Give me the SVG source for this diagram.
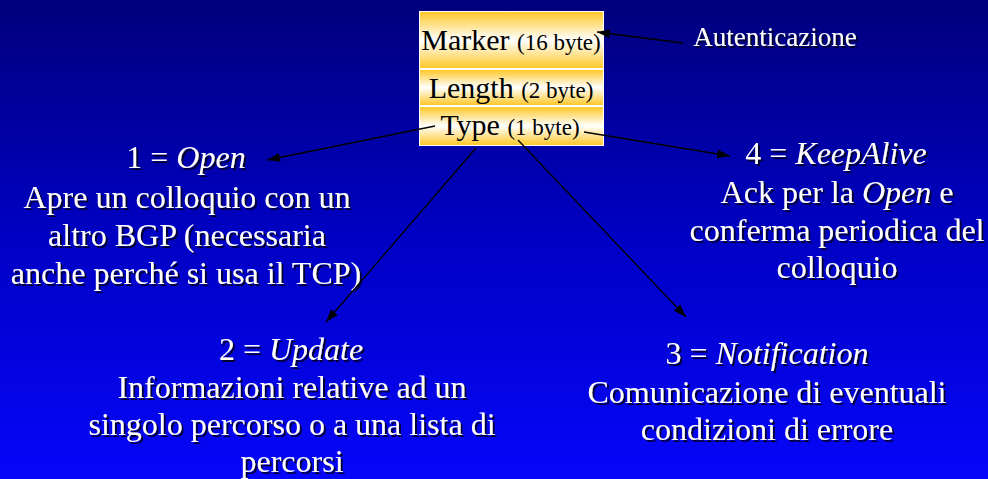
<svg xmlns="http://www.w3.org/2000/svg" width="988" height="479" viewBox="0 0 988 479">
  <defs>
    <linearGradient id="bg" x1="0" y1="0" x2="0" y2="1">
      <stop offset="0" stop-color="#00007c"/>
      <stop offset="0.5" stop-color="#0000c4"/>
      <stop offset="1" stop-color="#0606fa"/>
    </linearGradient>
    <linearGradient id="gold" x1="0" y1="0" x2="0" y2="1">
      <stop offset="0" stop-color="#ffc82a"/>
      <stop offset="0.5" stop-color="#ffffff"/>
      <stop offset="1" stop-color="#ffc82a"/>
    </linearGradient>
    <filter id="shadow" x="-5%" y="-20%" width="110%" height="150%">
      <feDropShadow dx="2" dy="2" stdDeviation="0.6" flood-color="#000022" flood-opacity="0.9"/>
    </filter>
    <marker id="arrow" markerUnits="userSpaceOnUse" markerWidth="14" markerHeight="10" refX="13" refY="4.5" orient="auto">
      <path d="M0,0 L13,4.5 L0,9 z" fill="#000"/>
    </marker>
  </defs>
  <style>
    .lbl { font-family: "Liberation Serif", "Times New Roman", serif; font-size: 32px; fill: #fff; text-anchor: middle; filter: url(#shadow); }
    .small { font-size: 27px; }
    .box { font-family: "Liberation Serif", "Times New Roman", serif; font-size: 30px; fill: #000; text-anchor: middle; }
    .sub { font-size: 23px; }
    .it { font-style: italic; }
    .conn line { stroke: #000; stroke-width: 1.3; marker-end: url(#arrow); }
    .field { fill: url(#gold); }
  </style>

  <rect x="0" y="0" width="988" height="479" fill="url(#bg)"/>

  <g id="header">
    <rect x="419" y="11" width="185" height="135" fill="#ffffff"/>
    <g id="marker-field">
      <rect class="field" x="420" y="12" width="183" height="56"/>
      <text class="box" x="511" y="50">Marker <tspan class="sub">(16 byte)</tspan></text>
    </g>
    <g id="length-field">
      <rect class="field" x="420" y="70" width="183" height="35"/>
      <text class="box" x="511" y="98">Length <tspan class="sub">(2 byte)</tspan></text>
    </g>
    <g id="type-field">
      <rect class="field" x="420" y="107" width="183" height="38"/>
      <text class="box" x="510" y="135">Type <tspan class="sub">(1 byte)</tspan></text>
    </g>
  </g>

  <g id="autenticazione">
    <text class="lbl small" x="775" y="46">Autenticazione</text>
  </g>

  <g id="open">
    <text class="lbl" x="186" y="168">1 = <tspan class="it">Open</tspan></text>
    <text class="lbl" x="187" y="208">Apre un colloquio con un</text>
    <text class="lbl" x="187" y="246">altro BGP (necessaria</text>
    <text class="lbl" x="186" y="284">anche perché si usa il TCP)</text>
  </g>

  <g id="keepalive">
    <text class="lbl" x="836" y="164">4 = <tspan class="it">KeepAlive</tspan></text>
    <text class="lbl" x="837" y="203">Ack per la <tspan class="it">Open</tspan> e</text>
    <text class="lbl" x="837" y="241">conferma periodica del</text>
    <text class="lbl" x="837" y="278">colloquio</text>
  </g>

  <g id="update">
    <text class="lbl" x="291" y="360">2 = <tspan class="it">Update</tspan></text>
    <text class="lbl" x="292" y="398">Informazioni relative ad un</text>
    <text class="lbl" x="292" y="435">singolo percorso o a una lista di</text>
    <text class="lbl" x="292" y="472">percorsi</text>
  </g>

  <g id="notification">
    <text class="lbl" x="767" y="364">3 = <tspan class="it">Notification</tspan></text>
    <text class="lbl" x="767" y="403">Comunicazione di eventuali</text>
    <text class="lbl" x="767" y="440">condizioni di errore</text>
  </g>

  <g id="connectors" class="conn">
    <line x1="683" y1="43" x2="597" y2="32"/>
    <line x1="435" y1="126" x2="267" y2="160"/>
    <line x1="584" y1="132" x2="730" y2="156"/>
    <line x1="476" y1="148" x2="326" y2="322"/>
    <line x1="518" y1="140" x2="686" y2="317"/>
  </g>
</svg>
